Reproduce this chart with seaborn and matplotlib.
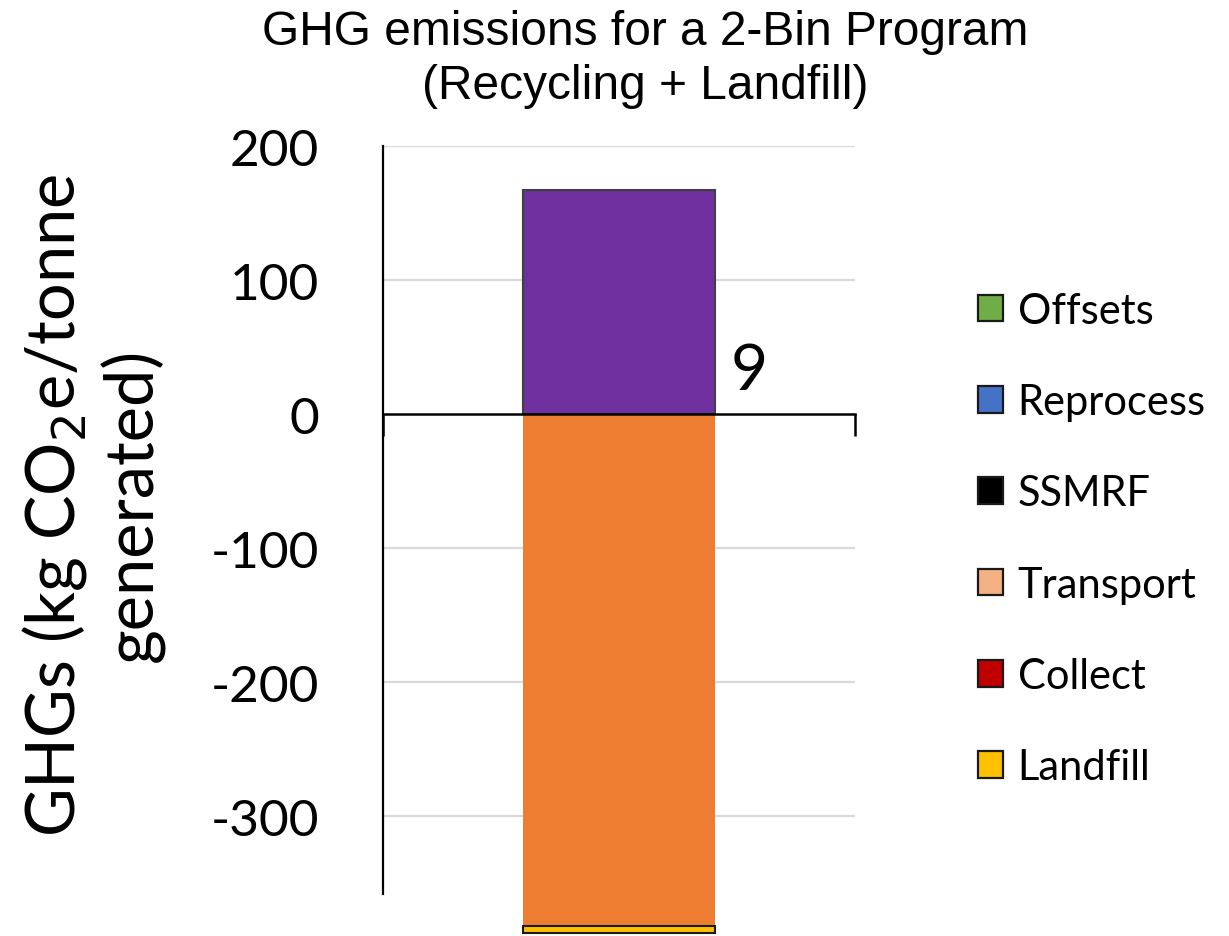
import matplotlib
matplotlib.use("Agg")
import matplotlib.pyplot as plt
import seaborn as sns
from matplotlib.patches import Patch

# Single program bar, stacked segments (kg CO2e / tonne generated)
program = ["2-Bin"]
upper_segment = [167]        # purple, above zero
lower_segment = [-382]       # orange, below zero
landfill_segment = [-5]      # thin landfill strip under the orange block
value_label = "9"

y_ticks = [200, 100, 0, -100, -200, -300]

legend_labels = ["Offsets", "Reprocess", "SSMRF", "Transport", "Collect", "Landfill"]
legend_colors = ["#70AD47", "#4472C4", "#000000", "#F4B183", "#C00000", "#FFC000"]

sns.set_theme(style="white")
plt.rcParams["font.family"] = ["Lato", "DejaVu Sans"]
plt.rcParams["text.color"] = "black"
plt.rcParams["ytick.color"] = "black"

W, H = 1229, 937
fig = plt.figure(figsize=(W / 100, H / 100), dpi=100)
ax = fig.add_axes([383 / W, 1 - 895 / H, (855 - 383) / W, (895 - 147) / H])

bar_w = 0.405
sns.barplot(x=program, y=upper_segment, color="#7030A0", saturation=1, width=bar_w,
            edgecolor="#404040", linewidth=1.5, errorbar=None, ax=ax, clip_on=False, zorder=3)
sns.barplot(x=program, y=lower_segment, color="#ED7D31", saturation=1, width=bar_w,
            linewidth=0, errorbar=None, ax=ax, clip_on=False, zorder=3)
sns.barplot(x=program, y=landfill_segment, bottom=lower_segment, color="#FFC000", saturation=1,
            width=bar_w, edgecolor="#1a1a1a", linewidth=1.5, errorbar=None, ax=ax,
            clip_on=False, zorder=3)

ax.set_xlim(-0.5, 0.5)
ax.set_ylim(-358, 200)
ax.set_yticks(y_ticks)
ax.set_yticklabels([str(t) for t in y_ticks], fontsize=37, color="black")
ax.set_xticks([-0.5, 0.5])
ax.set_xticklabels(["", ""])
ax.set_xlabel("")
ax.set_ylabel("")

for t in y_ticks:
    if t != 0:
        ax.axhline(t, color="#d9d9d9", linewidth=1.6, zorder=0)

for s in ["top", "right"]:
    ax.spines[s].set_visible(False)
ax.spines["left"].set_color("black")
ax.spines["left"].set_linewidth(1.6)
ax.spines["bottom"].set_position(("data", 0))
ax.spines["bottom"].set_color("black")
ax.spines["bottom"].set_linewidth(1.8)
ax.spines["bottom"].set_zorder(4)

ax.tick_params(axis="y", length=0, pad=46)
ax.tick_params(axis="x", direction="out", length=16, width=1.8, color="black", bottom=True)

ax.text(0.275, 32, value_label, fontsize=46, ha="center", va="center", color="black")

fig.text(645 / W, 1 - 10 / H, "GHG emissions for a 2-Bin Program\n(Recycling + Landfill)",
         ha="center", va="top", fontsize=34.5, family="Liberation Sans", linespacing=1.25,
         color="black")

fig.text(92 / W, 1 - 505 / H, "GHGs (kg CO$_2$e/tonne\ngenerated)", rotation=90,
         ha="center", va="center", fontsize=48, multialignment="center", linespacing=1.2,
         color="black")

handles = [Patch(facecolor=c, edgecolor="#1a1a1a", linewidth=1.6) for c in legend_colors]
fig.legend(handles, legend_labels, loc="center left", bbox_to_anchor=(978 / W, 1 - 540 / H),
           frameon=False, fontsize=30, handlelength=0.6, handleheight=0.6,
           handletextpad=0.35, labelspacing=1.28, borderaxespad=0, borderpad=0)

fig.savefig("out.png", dpi=100, facecolor="white")
